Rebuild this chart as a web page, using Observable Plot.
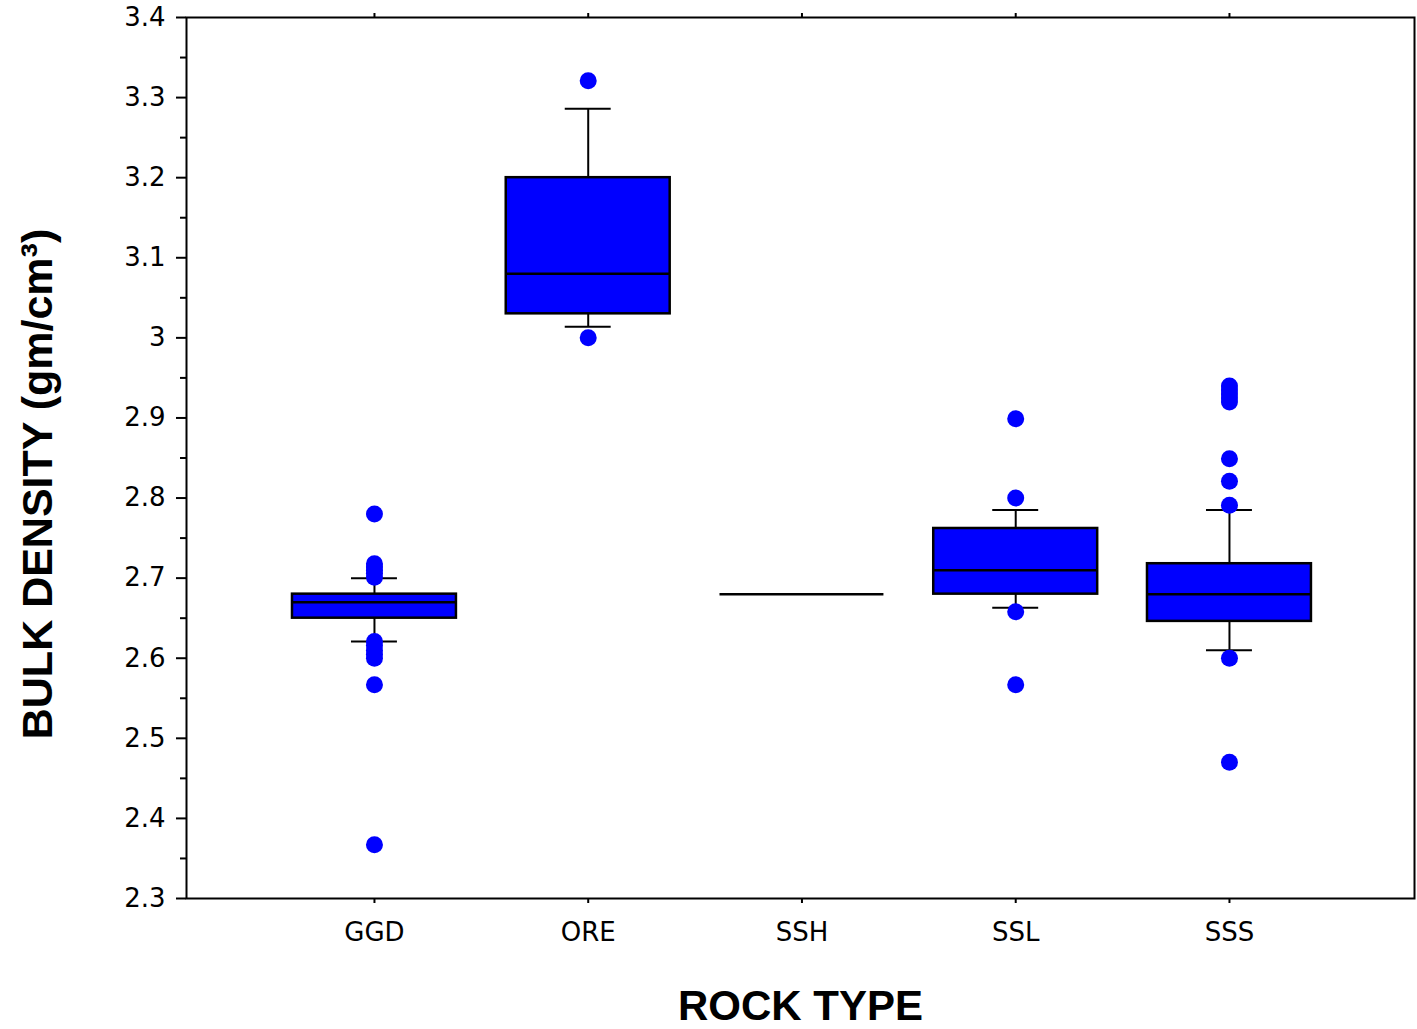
<!DOCTYPE html>
<html>
<head>
<meta charset="utf-8">
<script src="https://cdn.jsdelivr.net/npm/d3@7"></script>
<script src="https://cdn.jsdelivr.net/npm/@observablehq/plot@0.6"></script>
<style>
  html, body { margin: 0; padding: 0; background: #fff; }
  #chart { width: 1417px; height: 1029px; }
</style>
</head>
<body>
<div id="chart"></div>
<script>
// ---- data ----
const rockTypes   = ["GGD", "ORE", "SSH", "SSL", "SSS"];
const q1          = [2.650, 3.030, 2.680, 2.680, 2.646];
const medians     = [2.670, 3.080, 2.680, 2.710, 2.680];
const q3          = [2.680, 3.200, 2.680, 2.762, 2.718];
const whiskerLow  = [2.621, 3.014, null, 2.663, 2.610];
const whiskerHigh = [2.700, 3.286, null, 2.785, 2.785];

const outliersGGD = [2.780, 2.718, 2.714, 2.710, 2.706, 2.701, 2.621, 2.616, 2.610, 2.605, 2.600, 2.567, 2.367];
const outliersORE = [3.321, 3.000];
const outliersSSH = [];
const outliersSSL = [2.899, 2.800, 2.658, 2.567];
const outliersSSS = [2.940, 2.935, 2.930, 2.925, 2.920, 2.849, 2.821, 2.791, 2.600, 2.470];

const yTicks      = [2.3, 2.4, 2.5, 2.6, 2.7, 2.8, 2.9, 3.0, 3.1, 3.2, 3.3, 3.4];
const yMinorTicks = [2.35, 2.45, 2.55, 2.65, 2.75, 2.85, 2.95, 3.05, 3.15, 3.25, 3.35];

const xTitle = "ROCK TYPE";
const yTitle = "BULK DENSITY (gm/cm³)";

// ---- build tables ----
const boxes = rockTypes.map((t, i) => ({
  type: t, q1: q1[i], median: medians[i], q3: q3[i],
  lo: whiskerLow[i], hi: whiskerHigh[i]
}));
const whiskers = boxes.filter(d => d.lo != null);
const outlierLists = [outliersGGD, outliersORE, outliersSSH, outliersSSL, outliersSSS];
const outliers = rockTypes.flatMap((t, i) => outlierLists[i].map(v => ({type: t, value: v})));

const BLUE = "#0000ff";
const font = "'DejaVu Sans', sans-serif";
const titleFont = "'Liberation Sans', Arial, sans-serif";

const chart = Plot.plot({
  width: 1417,
  height: 1029,
  marginLeft: 186,
  marginRight: 3,
  marginTop: 17,
  marginBottom: 131,
  style: { fontFamily: font, background: "#fff", color: "#000" },
  x: { type: "band", domain: rockTypes, paddingInner: 0.233, paddingOuter: 0.489, align: 0.507, round: false, label: null },
  y: { domain: [2.3, 3.4], label: null },
  marks: [
    // boxes
    Plot.barY(boxes, { x: "type", y1: "q1", y2: "q3", fill: BLUE, stroke: "#000", strokeWidth: 2.5 }),
    // whiskers
    Plot.ruleX(whiskers, { x: "type", y1: "q3", y2: "hi", stroke: "#000", strokeWidth: 2 }),
    Plot.ruleX(whiskers, { x: "type", y1: "lo", y2: "q1", stroke: "#000", strokeWidth: 2 }),
    // whisker caps
    Plot.tickY(whiskers, { x: "type", y: "hi", stroke: "#000", strokeWidth: 2, insetLeft: 59, insetRight: 59 }),
    Plot.tickY(whiskers, { x: "type", y: "lo", stroke: "#000", strokeWidth: 2, insetLeft: 59, insetRight: 59 }),
    // medians
    Plot.tickY(boxes, { x: "type", y: "median", stroke: "#000", strokeWidth: 2.5 }),
    // outliers
    Plot.dot(outliers, { x: "type", y: "value", r: 8.5, fill: BLUE, stroke: null }),
    // frame
    Plot.frame({ stroke: "#000", strokeWidth: 2 }),
    // axes
    Plot.axisY({ ticks: yTicks, tickSize: 10, tickPadding: 11, tickFormat: d => String(+d.toFixed(1)),
                 fontSize: 26, strokeWidth: 2, label: null }),
    Plot.axisY({ ticks: yMinorTicks, tickSize: 6, tickFormat: () => "", strokeWidth: 2, label: null }),
    Plot.axisX({ anchor: "bottom", tickSize: 5, tickPadding: 19, fontSize: 26, strokeWidth: 2, label: null }),
    Plot.axisX({ anchor: "top", tickSize: 5, tickFormat: () => "", strokeWidth: 2, label: null }),
    // axis titles
    Plot.text([xTitle], { text: d => d, frameAnchor: "bottom", dy: 121, fontSize: 42, fontWeight: "bold",
                          textAnchor: "middle", fontFamily: titleFont, fill: "#000" }),
    Plot.text([yTitle], { text: d => d, frameAnchor: "left", dx: -148, dy: 26, rotate: -90, fontSize: 43,
                          textAnchor: "middle", fontWeight: "bold", fontFamily: titleFont, fill: "#000" })
  ]
});
document.getElementById("chart").appendChild(chart);
</script>
</body>
</html>
